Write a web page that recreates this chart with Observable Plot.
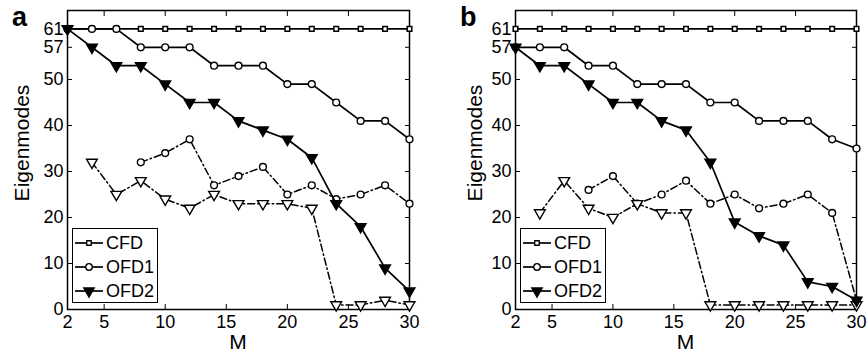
<!DOCTYPE html>
<html><head><meta charset="utf-8">
<script src="https://cdn.jsdelivr.net/npm/d3@7"></script>
<script src="https://cdn.jsdelivr.net/npm/@observablehq/plot@0.6"></script>
<style>
body{margin:0;background:#fff;font-family:"Liberation Sans",Arial,sans-serif;}
#wrap{position:relative;width:868px;height:358px;overflow:hidden}
.panel{position:absolute;top:0;width:434px;height:358px}
.panel > svg{position:absolute;left:0;top:0}
.plet{position:absolute;font-weight:bold;font-size:27px;line-height:1}
.ylab{position:absolute;font-size:21px;line-height:1;white-space:nowrap;transform:translate(-50%,-50%) rotate(-90deg)}
.xlab{position:absolute;font-size:21px;line-height:1;transform:translateX(-50%)}
.legend{position:absolute;border:1.6px solid #000;background:#fff;box-sizing:border-box}
.legend .row{position:absolute;left:0;height:24px;display:flex;align-items:center;font-size:18px}
.legend .row svg{display:block;flex:none}
</style></head><body><div id="wrap"></div>
<script>
// ---- data ----
const M = [2,4,6,8,10,12,14,16,18,20,22,24,26,28,30];
const xTicks = [2,5,10,15,20,25,30];
const yTicks = [0,10,20,30,40,50,57,61];
const seriesNames = ["CFD","OFD1","OFD2"];

// panel a
const aCFD  = [61,61,61,61,61,61,61,61,61,61,61,61,61,61,61];
const aOFD1 = [61,61,61,57,57,57,53,53,53,49,49,45,41,41,37];
const aOFD2 = [61,57,53,53,49,45,45,41,39,37,33,23,18,9,4];
const aOFD1dM = [8,10,12,14,16,18,20,22,24,26,28,30];
const aOFD1d  = [32,34,37,27,29,31,25,27,24,25,27,23];
const aOFD2dM = [4,6,8,10,12,14,16,18,20,22,24,26,28,30];
const aOFD2d  = [32,25,28,24,22,25,23,23,23,22,1,1,2,1];

// panel b
const bCFD  = [61,61,61,61,61,61,61,61,61,61,61,61,61,61,61];
const bOFD1 = [57,57,57,53,53,49,49,49,45,45,41,41,41,37,35];
const bOFD2 = [57,53,53,49,45,45,41,39,32,19,16,14,6,5,2];
const bOFD1dM = [8,10,12,14,16,18,20,22,24,26,28,30];
const bOFD1d  = [26,29,23,25,28,23,25,22,23,25,21,2];
const bOFD2dM = [4,6,8,10,12,14,16,18,20,22,24,26,28,30];
const bOFD2d  = [21,28,22,20,23,21,21,1,1,1,1,1,1,1];

const rows = (xs, ys) => xs.map((x, i) => ({x, y: ys[i]}));
const DASH = "7,3,1.5,3";

function makePanel(cfg) {
  const div = document.createElement("div");
  div.className = "panel";
  div.style.left = cfg.left + "px";
  const dd1 = rows(cfg.d1M, cfg.d1), dd2 = rows(cfg.d2M, cfg.d2);
  const s0 = rows(M, cfg.cfd), s1 = rows(M, cfg.ofd1), s2 = rows(M, cfg.ofd2);
  const plot = Plot.plot({
    width: 434, height: 358,
    marginTop: 10, marginBottom: 49, marginLeft: cfg.ml, marginRight: cfg.mr,
    style: {fontFamily: "'Liberation Sans', Arial, sans-serif", fontSize: "18px", color: "#000", background: "transparent"},
    x: {domain: [2, 30]},
    y: {domain: [0, 65]},
    marks: [
      Plot.frame({stroke: "#000", strokeWidth: 1.5}),
      Plot.axisX({ticks: xTicks, tickSize: -5, tickPadding: 11, label: null, tickFormat: d => String(d)}),
      Plot.axisX({anchor: "top", ticks: xTicks, tickSize: -5, label: null, tickFormat: () => ""}),
      Plot.axisY({ticks: yTicks, tickSize: -5, tickPadding: 9, label: null, tickFormat: d => String(d)}),
      Plot.axisY({anchor: "right", ticks: yTicks, tickSize: -5, label: null, tickFormat: () => ""}),
      Plot.line(dd1, {x: "x", y: "y", stroke: "#000", strokeWidth: 1.5, strokeDasharray: DASH}),
      Plot.line(dd2, {x: "x", y: "y", stroke: "#000", strokeWidth: 1.5, strokeDasharray: DASH}),
      Plot.dot(dd1, {x: "x", y: "y", symbol: "circle", r: 3.4, stroke: "#000", strokeWidth: 1.4, fill: "#fff"}),
      Plot.dot(dd2, {x: "x", y: "y", symbol: "triangle", rotate: 180, r: 4, stroke: "#000", strokeWidth: 1.4, fill: "#fff"}),
      Plot.line(s0, {x: "x", y: "y", stroke: "#000", strokeWidth: 1.7}),
      Plot.line(s1, {x: "x", y: "y", stroke: "#000", strokeWidth: 1.7}),
      Plot.line(s2, {x: "x", y: "y", stroke: "#000", strokeWidth: 1.7}),
      Plot.dot(s0, {x: "x", y: "y", symbol: "square", r: 2.6, stroke: "#000", strokeWidth: 1.5, fill: "#fff"}),
      Plot.dot(s1, {x: "x", y: "y", symbol: "circle", r: 3.4, stroke: "#000", strokeWidth: 1.4, fill: "#fff"}),
      Plot.dot(s2, {x: "x", y: "y", symbol: "triangle", rotate: 180, r: 4, stroke: "#000", strokeWidth: 1.4, fill: "#000"})
    ]
  });
  div.appendChild(plot);

  const let_ = document.createElement("div");
  let_.className = "plet"; let_.textContent = cfg.letter;
  let_.style.left = cfg.letX + "px"; let_.style.top = "4px";
  div.appendChild(let_);

  const yl = document.createElement("div");
  yl.className = "ylab"; yl.textContent = "Eigenmodes";
  yl.style.left = cfg.ylX + "px"; yl.style.top = "143px";
  div.appendChild(yl);

  const xl = document.createElement("div");
  xl.className = "xlab"; xl.textContent = "M";
  xl.style.left = (cfg.ml + (434 - cfg.ml - cfg.mr) / 2) + "px"; xl.style.top = "331px";
  div.appendChild(xl);

  // legend
  const lg = document.createElement("div");
  lg.className = "legend";
  lg.style.left = cfg.lgX + "px"; lg.style.top = "228px";
  lg.style.width = "86px"; lg.style.height = "75px";
  seriesNames.forEach((name, i) => {
    const r = document.createElement("div");
    r.className = "row"; r.style.top = (2 + i * 24) + "px";
    const svg = d3.create("svg").attr("width", 33).attr("height", 24);
    svg.append("line").attr("x1", 2).attr("x2", 30).attr("y1", 12).attr("y2", 12).attr("stroke", "#000").attr("stroke-width", 1.7);
    const sym = d3.symbol().type(i === 0 ? d3.symbolSquare : i === 1 ? d3.symbolCircle : d3.symbolTriangle).size(i === 0 ? 20 : i === 1 ? 34 : 48);
    svg.append("path").attr("d", sym()).attr("transform", `translate(16,12)` + (i === 2 ? " rotate(180)" : ""))
      .attr("fill", i === 2 ? "#000" : "#fff").attr("stroke", "#000").attr("stroke-width", 1.3);
    r.appendChild(svg.node());
    const t = document.createElement("span"); t.textContent = name;
    r.appendChild(t);
    lg.appendChild(r);
  });
  div.appendChild(lg);
  return div;
}

const wrap = document.getElementById("wrap");
wrap.appendChild(makePanel({left: 0, ml: 67, mr: 25, letter: "a", letX: 12, ylX: 21, lgX: 72,
  cfd: aCFD, ofd1: aOFD1, ofd2: aOFD2, d1M: aOFD1dM, d1: aOFD1d, d2M: aOFD2dM, d2: aOFD2d}));
wrap.appendChild(makePanel({left: 434, ml: 81, mr: 12, letter: "b", letX: 26, ylX: 40, lgX: 86,
  cfd: bCFD, ofd1: bOFD1, ofd2: bOFD2, d1M: bOFD1dM, d1: bOFD1d, d2M: bOFD2dM, d2: bOFD2d}));
</script></body></html>
